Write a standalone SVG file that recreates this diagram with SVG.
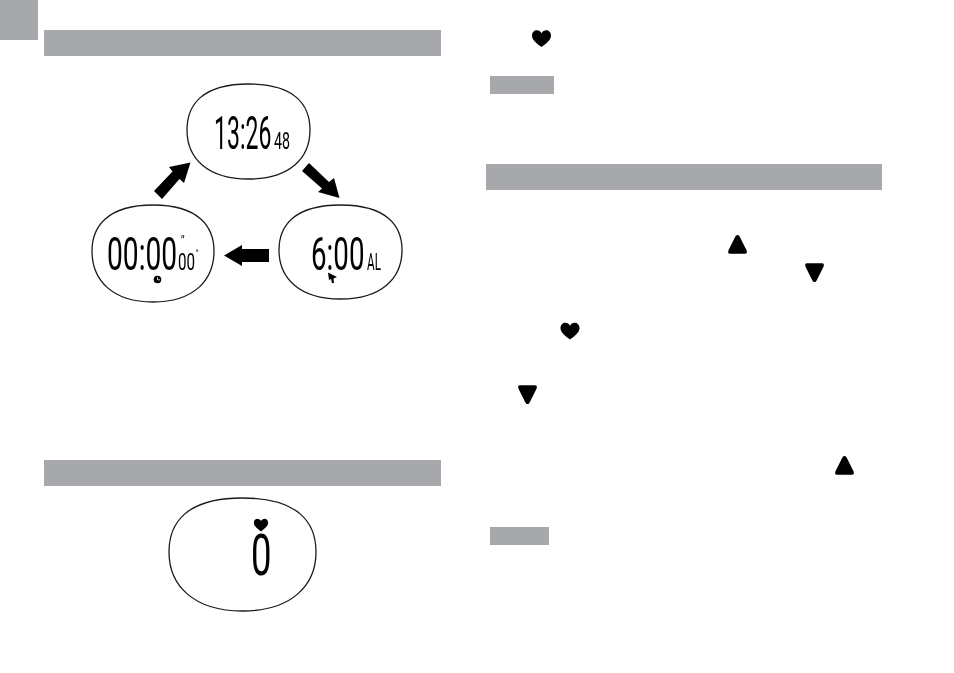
<svg xmlns="http://www.w3.org/2000/svg" width="954" height="673" viewBox="0 0 954 673">
  <style>
    .band { fill: #a7a8ab; }
    .bezel { fill: #fff; stroke: #1a1a1a; stroke-width: 1.3; }
    .lcd { font-family: Roboto, "Liberation Sans", Arial, sans-serif; font-weight: 400; fill: #000; filter: grayscale(1); }
    .big { font-size: 47px; }
    .small { font-size: 23px; }
  </style>
  <defs>
    <path id="heart" d="M0 8.6C-3 6-9.500 2.200-9.500-3C-9.500-6.300-7.200-8.300-4.800-8.300C-2.600-8.300-1-7-0-5.300C1-7 2.600-8.300 4.800-8.300C7.200-8.300 9.500-6.300 9.500-3C9.500 2.200 3 6 0 8.600Z"/>
    <path id="tri-up" d="M0-9.500C1.200-9.500 1.800-8.600 2.400-7.400L8.900 5.600C9.900 7.800 9.400 9.300 7.400 9.300H-7.400C-9.400 9.300-9.900 7.800-8.900 5.600L-2.400-7.400C-1.800-8.600-1.200-9.500 0-9.500Z"/>
  </defs>

  <rect class="band" x="0" y="0" width="38" height="40"/>
  <rect class="band" x="44" y="30" width="397" height="26"/>
  <rect class="band" x="44" y="460" width="397" height="26"/>
  <rect class="band" x="486" y="164" width="396" height="26"/>
  <rect class="band" x="490" y="76" width="64" height="18"/>
  <rect class="band" x="490" y="527" width="59" height="18"/>

  <g id="connectors" fill="#000">
    <path d="M302 171L309 163L329 182L334 178L339.500 198L318 192L322 188.500Z"/>
    <path d="M190.500 162.500L184 183L179.500 179L162 199L154 191L172.500 171.500L169 167Z"/>
    <path d="M224 255.500L242 245V249H269V262H242V266Z"/>
  </g>

  <g id="display-time">
    <path class="bezel" d="M248.500 84C295 84 310 105 310 130C310 158 290 179 248.500 179C207 179 187 158 187 130C187 105 202 84 248.500 84Z"/>
    <text class="lcd big" transform="translate(214 149) scale(0.49 1)">13:26</text>
    <text class="lcd small" transform="translate(274 149) scale(0.62 1)">48</text>
  </g>

  <g id="display-alarm">
    <path class="bezel" d="M340.500 205C387 205 402 226 402 250C402 278 382 299 340.500 299C299 299 279 278 279 250C279 226 294 205 340.500 205Z"/>
    <text class="lcd big" transform="translate(311 270) scale(0.59 1)">6:00</text>
    <text class="lcd small" transform="translate(367 270) scale(0.51 1)">AL</text>
    <path d="M328 272.500L337 277L333.500 278.500L334 283L332 283L331 279L329 280Z"/>
  </g>

  <g id="display-chrono">
    <path class="bezel" d="M153 205C199 205 214 227 214 251C214 280 194 302 153 302C112 302 92 280 92 251C92 227 107 205 153 205Z"/>
    <text class="lcd big" transform="translate(107 270) scale(0.6 1)">00:00</text>
    <text class="lcd small" transform="translate(178 270) scale(0.66 1)">00</text>
    <text class="lcd" x="180" y="245" font-size="13" font-style="italic">"</text>
    <text class="lcd" x="195.500" y="256" font-size="9">°</text>
    <circle cx="157.500" cy="279.500" r="3.800" fill="#000"/>
    <path d="M157.500 277V279.800H160" fill="none" stroke="#fff" stroke-width="0.8"/>
  </g>

  <g id="display-pulse">
    <path class="bezel" d="M242.500 498C299 498 316 523 316 552C316 585 292 611 242.500 611C193 611 169 585 169 552C169 523 186 498 242.500 498Z"/>
    <use href="#heart" transform="translate(261 525) scale(0.75)"/>
    <text class="lcd" font-size="57" transform="translate(251 575) scale(0.64 1)">0</text>
  </g>

  <g id="button-symbols">
    <use href="#heart" transform="translate(541.500 38.500)"/>
    <use href="#heart" transform="translate(570 331)"/>
    <use href="#tri-up" transform="translate(737.500 244.500)"/>
    <use href="#tri-up" transform="translate(814.500 272.500) scale(1 -1)"/>
    <use href="#tri-up" transform="translate(527.500 394.500) scale(1 -1)"/>
    <use href="#tri-up" transform="translate(844.500 465.500)"/>
  </g>
</svg>
